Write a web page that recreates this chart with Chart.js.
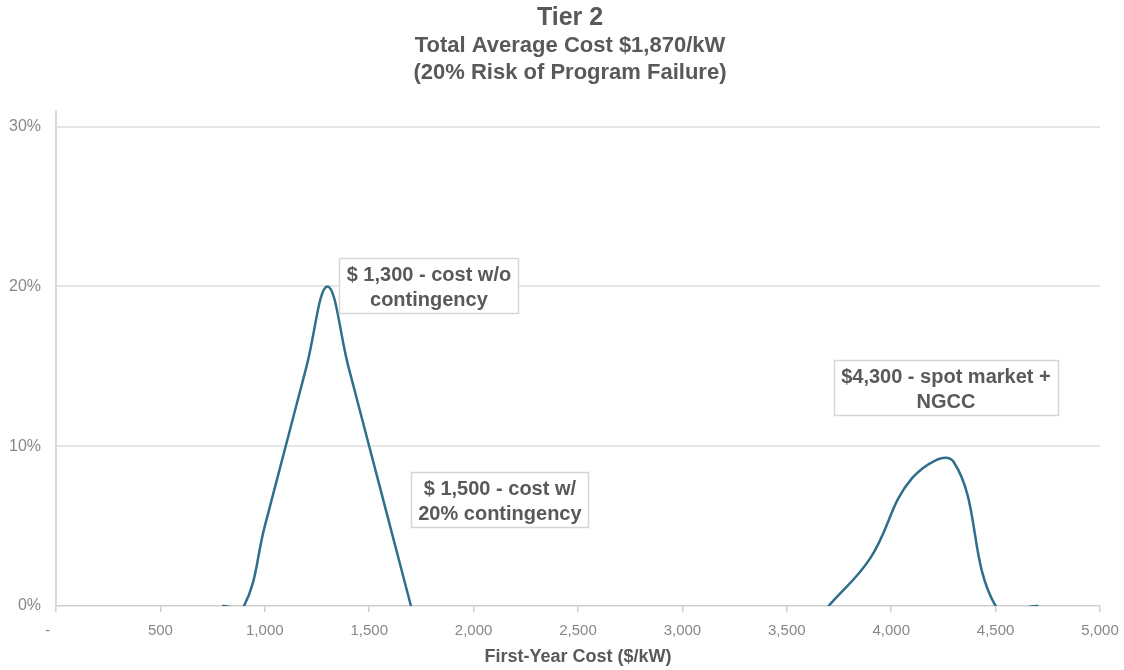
<!DOCTYPE html>
<html>
<head>
<meta charset="utf-8">
<script src="https://cdn.jsdelivr.net/npm/chart.js@4.4.1/dist/chart.umd.min.js"></script>
<style>
  html, body { margin: 0; padding: 0; background: #ffffff; }
  #wrap { width: 1124px; height: 670px; }
</style>
</head>
<body>
<div id="wrap"><canvas id="chart" width="1124" height="670"></canvas></div>
<script>
// Headings
const titleText = 'Tier 2';
const subtitleLines = ['Total Average Cost $1,870/kW', '(20% Risk of Program Failure)'];
const xAxisTitle = 'First-Year Cost ($/kW)';

// First-year cost outcomes ($/kW) when the program succeeds, with probabilities
const successCost = [800, 900, 1000, 1100, 1200, 1300, 1400, 1500, 1600, 1700];
const successProb = [0, 0, 0.05, 0.10, 0.15, 0.20, 0.15, 0.10, 0.05, 0];

// Outcomes when the program fails (spot market purchases + NGCC)
const failureCost = [3700, 3900, 4100, 4300, 4500, 4700];
const failureProb = [0, 0.03, 0.08, 0.09, 0, 0];

// Axis ticks
const xTicks = [0, 500, 1000, 1500, 2000, 2500, 3000, 3500, 4000, 4500, 5000];
const yTicks = [0, 0.10, 0.20, 0.30];

// Callout texts and where they sit (in axis units)
const calloutLines = [
  ['$ 1,300 - cost w/o', 'contingency'],
  ['$ 1,500 - cost w/', '20% contingency'],
  ['$4,300 - spot market +', 'NGCC']
];
const calloutAnchors = [
  { x: 1786, y: 0.2003 },
  { x: 2126, y: 0.0666 },
  { x: 4262, y: 0.1369 }
];

const FONT = '"Liberation Sans", Arial, Helvetica, sans-serif';
const LINE_COLOR = '#2f6e8d';
const TEXT_DARK = '#595959';
const TEXT_LIGHT = '#878787';

const toPoints = (xs, ys) => xs.map((x, i) => ({ x: x, y: ys[i] }));

// Boxed text labels drawn over the plot
const calloutPlugin = {
  id: 'callouts',
  afterDatasetsDraw(chart) {
    const { ctx } = chart;
    const xs = chart.scales.x, ys = chart.scales.y;
    ctx.save();
    ctx.font = 'bold 20px ' + FONT;
    calloutLines.forEach((lines, i) => {
      const cx = xs.getPixelForValue(calloutAnchors[i].x);
      const cy = ys.getPixelForValue(calloutAnchors[i].y);
      const w = Math.round(Math.max(...lines.map(l => ctx.measureText(l).width)) + 14);
      const h = 55;
      const left = Math.round(cx - w / 2) + 0.5;
      const top = Math.round(cy - h / 2) + 0.5;
      ctx.fillStyle = '#ffffff';
      ctx.fillRect(left, top, w, h);
      ctx.strokeStyle = '#d6d6d6';
      ctx.lineWidth = 1.5;
      ctx.strokeRect(left, top, w, h);
      ctx.fillStyle = TEXT_DARK;
      ctx.textAlign = 'center';
      ctx.textBaseline = 'middle';
      lines.forEach((l, j) => ctx.fillText(l, cx, top + 17 + j * 25));
    });
    ctx.restore();
  }
};

const lineStyle = {
  borderColor: LINE_COLOR,
  borderWidth: 2.5,
  borderCapStyle: 'round',
  pointRadius: 0,
  tension: 0.4,
  fill: false,
  clip: 0
};

new Chart(document.getElementById('chart'), {
  type: 'line',
  data: {
    datasets: [
      Object.assign({ label: 'Program success', data: toPoints(successCost, successProb) }, lineStyle),
      Object.assign({ label: 'Program failure', data: toPoints(failureCost, failureProb) }, lineStyle)
    ]
  },
  options: {
    responsive: false,
    animation: false,
    events: [],
    layout: { padding: { left: 16, right: 0, top: 0, bottom: 0 } },
    elements: { line: { capBezierPoints: false } },
    plugins: {
      legend: { display: false },
      tooltip: { enabled: false },
      title: {
        display: true,
        text: titleText,
        color: TEXT_DARK,
        font: { family: FONT, size: 25, weight: 'bold', lineHeight: 1.2 },
        padding: { top: 3, bottom: 0 }
      },
      subtitle: {
        display: true,
        text: subtitleLines,
        color: TEXT_DARK,
        font: { family: FONT, size: 22, weight: 'bold', lineHeight: 1.22 },
        padding: { top: 0, bottom: 24 }
      }
    },
    scales: {
      x: {
        type: 'linear',
        min: 0,
        max: 5000,
        afterBuildTicks: s => { s.ticks = xTicks.map(v => ({ value: v })); },
        afterFit: s => { s.height = 64; s.paddingRight = 24; },
        ticks: {
          autoSkip: false,
          maxRotation: 0,
          color: TEXT_LIGHT,
          font: { family: FONT, size: 15 },
          padding: 10,
          callback: v => v === 0 ? '-    ' : v.toLocaleString('en-US')
        },
        grid: { drawOnChartArea: false, drawTicks: true, tickLength: 6, color: '#d0d0d0', lineWidth: 1.5 },
        border: { display: true, color: '#d0d0d0', width: 1.5 },
        title: {
          display: true,
          text: xAxisTitle,
          color: TEXT_DARK,
          font: { family: FONT, size: 18, weight: 'bold', lineHeight: 1.2 },
          padding: { top: 4, bottom: 2 }
        }
      },
      y: {
        min: 0,
        max: 0.31,
        afterBuildTicks: s => { s.ticks = yTicks.map(v => ({ value: v })); },
        afterFit: s => { s.width = 40; },
        // percentage labels reach past the axis box into the left margin
        afterUpdate: s => { s._computeLabelArea = () => undefined; },
        ticks: {
          color: TEXT_LIGHT,
          font: { family: FONT, size: 16 },
          padding: 15,
          callback: v => Math.round(v * 100) + '%'
        },
        grid: {
          drawTicks: false,
          lineWidth: 2,
          color: c => (c.tick && c.tick.value === 0) ? 'rgba(0,0,0,0)' : '#e6e6e6'
        },
        border: { display: true, color: '#dadada', width: 2 }
      }
    }
  },
  plugins: [calloutPlugin]
});
</script>
</body>
</html>
